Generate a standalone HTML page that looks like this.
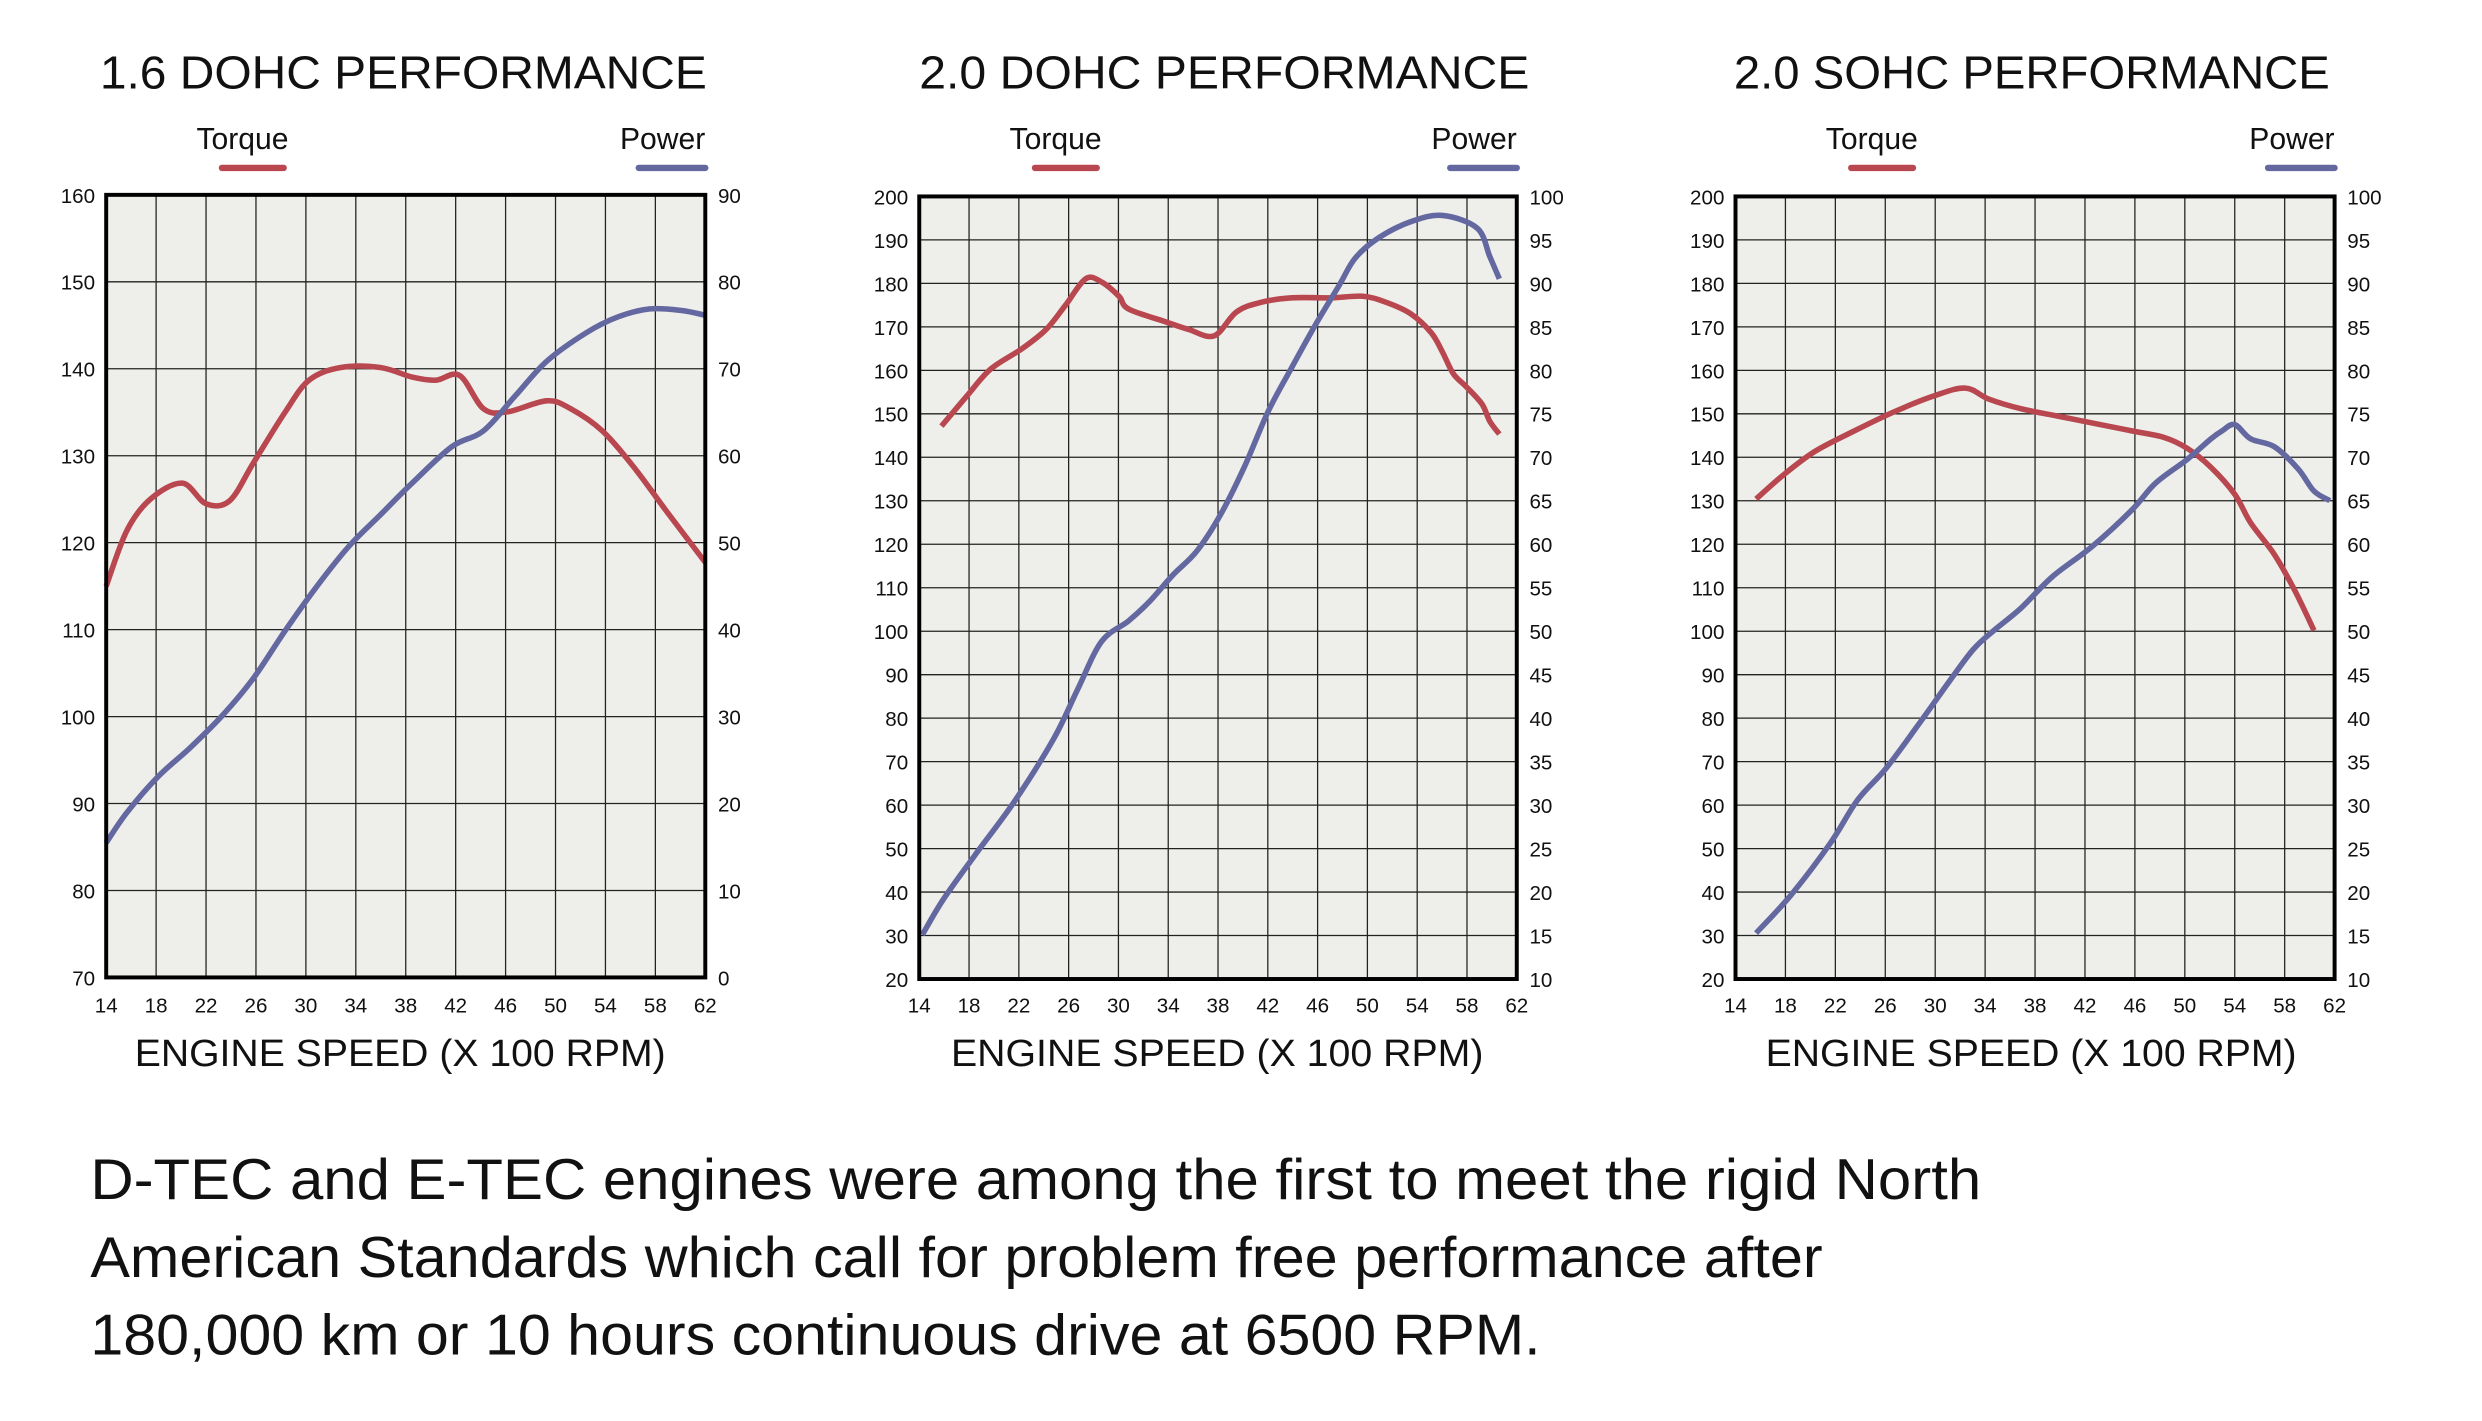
<!DOCTYPE html>
<html><head><meta charset="utf-8"><style>
html,body{margin:0;padding:0;background:#fff}
svg{display:block}
text{font-family:"Liberation Sans",sans-serif;fill:#111}
</style></head><body>
<svg id="s" width="2482" height="1421" viewBox="0 0 1566 897" preserveAspectRatio="none" xmlns="http://www.w3.org/2000/svg"></svg>
<script>
const s=document.getElementById('s');let h='';
const RED='#b9474f',BLUE='#6468a0';
function P(pts){let d='M'+pts[0][0]+','+pts[0][1];for(let i=1;i<pts.length;i++){const p0=pts[Math.max(i-2,0)],p1=pts[i-1],p2=pts[i],p3=pts[Math.min(i+1,pts.length-1)];
const c1=[p1[0]+(p2[0]-p0[0])/6,p1[1]+(p2[1]-p0[1])/6],c2=[p2[0]-(p3[0]-p1[0])/6,p2[1]-(p3[1]-p1[1])/6];d+=`C${c1[0]},${c1[1]} ${c2[0]},${c2[1]} ${p2[0]},${p2[1]}`;}return d;}
function chart(x0,x1,y0,y1,title,tx,lt,rt,torque,power,axx){
 h+=`<text x="${tx[0]}" y="56" font-size="29" textLength="${tx[1]-tx[0]}" lengthAdjust="spacingAndGlyphs">${title}</text>`;
 h+=`<text x="${x0+86}" y="94" font-size="19" text-anchor="middle">Torque</text><line x1="${x0+73}" y1="106" x2="${x0+112}" y2="106" stroke="${RED}" stroke-width="4" stroke-linecap="round"/>`;
 h+=`<text x="${x1}" y="94" font-size="19" text-anchor="end">Power</text><line x1="${x1-42}" y1="106" x2="${x1}" y2="106" stroke="${BLUE}" stroke-width="4" stroke-linecap="round"/>`;
 h+=`<rect x="${x0}" y="${y0}" width="${x1-x0}" height="${y1-y0}" fill="#eeeeea"/>`;
 for(let i=1;i<12;i++){const x=x0+(x1-x0)*i/12;h+=`<line x1="${x}" y1="${y0}" x2="${x}" y2="${y1}" stroke="#222" stroke-width="0.8"/>`;}
 const n=lt.length-1;
 for(let i=0;i<=n;i++){const y=y0+(y1-y0)*i/n;if(i>0&&i<n)h+=`<line x1="${x0}" y1="${y}" x2="${x1}" y2="${y}" stroke="#222" stroke-width="0.8"/>`;
  h+=`<text x="${x0-7}" y="${y+5}" font-size="13" text-anchor="end">${lt[i]}</text><text x="${x1+8}" y="${y+5}" font-size="13">${rt[i]}</text>`;}
 for(let i=0;i<=12;i++){const x=x0+(x1-x0)*i/12;h+=`<text x="${x}" y="639" font-size="13" text-anchor="middle">${14+4*i}</text>`;}
 h+=`<text x="${axx[0]}" y="673" font-size="24" textLength="${axx[1]-axx[0]}" lengthAdjust="spacingAndGlyphs">ENGINE SPEED (X 100 RPM)</text>`;
 h+=`<path d="${P(torque)}" fill="none" stroke="${RED}" stroke-width="3.5" stroke-linejoin="round"/>`;
 h+=`<path d="${P(power)}" fill="none" stroke="${BLUE}" stroke-width="3.5" stroke-linejoin="round"/>`;
 h+=`<rect x="${x0}" y="${y0}" width="${x1-x0}" height="${y1-y0}" fill="none" stroke="#000" stroke-width="2.5"/>`;
}
const r=(a,b,st)=>{const o=[];for(let v=a;st>0?v<=b:v>=b;v+=st)o.push(v);return o;};
chart(67,445,123,617,'1.6 DOHC PERFORMANCE',[63,446],r(160,70,-10),r(90,0,-10),
[[67,370],[80,335],[95,315],[115,305],[130,318],[145,316],[160,292],[180,260],[195,240],[215,232],[240,232],[260,238],[275,240],[290,237],[305,258],[320,260],[345,253],[360,258],[380,272],[400,295],[420,322],[445,355]],
[[67,532],[80,513],[100,490],[120,472],[140,452],[160,428],[180,398],[200,370],[220,345],[240,325],[260,305],[285,282],[305,272],[325,250],[345,228],[370,210],[390,200],[410,195],[430,196],[445,199]],[85,420]);
chart(580,957,124,618,'2.0 DOHC PERFORMANCE',[580,965],r(200,20,-10),r(100,10,-5),
[[594,269],[610,250],[625,233],[645,220],[660,208],[672,193],[685,176],[695,178],[706,187],[712,195],[735,203],[750,208],[766,212],[780,197],[795,191],[815,188],[840,188],[860,187],[875,191],[890,198],[903,210],[910,222],[917,236],[925,244],[935,255],[940,266],[946,274]],
[[582,590],[595,568],[615,540],[640,506],[665,466],[680,435],[695,405],[712,392],[725,380],[740,363],[755,348],[770,325],[785,295],[800,260],[815,232],[830,205],[845,180],[855,163],[870,150],[890,140],[910,136],[932,144],[940,162],[946,176]],[600,936]);
chart(1095,1473,124,618,'2.0 SOHC PERFORMANCE',[1094,1470],r(200,20,-10),r(100,10,-5),
[[1108,315],[1125,300],[1145,285],[1170,272],[1195,260],[1220,250],[1240,245],[1255,252],[1275,258],[1300,263],[1325,268],[1345,272],[1365,276],[1380,283],[1395,295],[1410,312],[1420,330],[1435,350],[1448,373],[1460,398]],
[[1108,589],[1130,565],[1155,532],[1172,505],[1190,485],[1210,458],[1230,430],[1245,410],[1258,398],[1275,384],[1295,364],[1320,345],[1345,322],[1360,305],[1380,290],[1395,277],[1402,272],[1410,268],[1420,277],[1435,282],[1450,296],[1460,310],[1470,316]],[1114,1449]);
const L=[['D-TEC and E-TEC engines were among the first to meet the rigid North',1250,757],['American Standards which call for problem free performance after',1150,806],['180,000 km or 10 hours continuous drive at 6500 RPM.',972,855]];
for(const l of L)h+=`<text x="57" y="${l[2]}" font-size="36" textLength="${l[1]-57}" lengthAdjust="spacingAndGlyphs">${l[0]}</text>`;
s.innerHTML=h;
</script>
</body></html>
